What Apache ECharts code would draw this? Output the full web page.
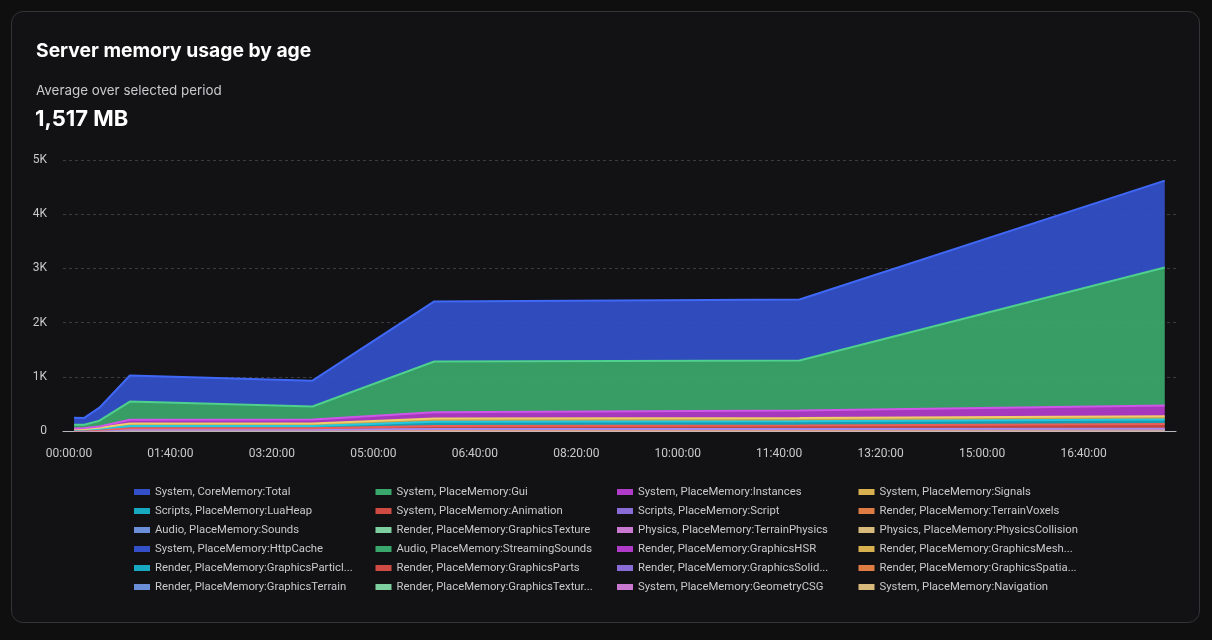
<!DOCTYPE html>
<html>
<head>
<meta charset="utf-8">
<title>Server memory usage by age</title>
<script src="https://cdn.jsdelivr.net/npm/echarts@6/dist/echarts.min.js"></script>
<style>
  html, body { margin: 0; padding: 0; background: #0f0f10; }
  #card {
    position: absolute; left: 11px; top: 11px; width: 1187px; height: 610px;
    border: 1px solid #333438; border-radius: 12px; background: #121214;
  }
  #chart { position: absolute; left: 0; top: 0; width: 1212px; height: 640px; }
</style>
</head>
<body>
<div id="card"></div>
<div id="chart"></div>
<script>
// age buckets, in seconds
var ageSeconds = [300, 900, 1800, 3600, 14400, 21600, 43200, 64800];

var seriesNames = [
  'System, CoreMemory:Total', 'System, PlaceMemory:Gui', 'System, PlaceMemory:Instances', 'System, PlaceMemory:Signals',
  'Scripts, PlaceMemory:LuaHeap', 'System, PlaceMemory:Animation', 'Scripts, PlaceMemory:Script', 'Render, PlaceMemory:TerrainVoxels',
  'Audio, PlaceMemory:Sounds', 'Render, PlaceMemory:GraphicsTexture', 'Physics, PlaceMemory:TerrainPhysics', 'Physics, PlaceMemory:PhysicsCollision',
  'System, PlaceMemory:HttpCache', 'Audio, PlaceMemory:StreamingSounds', 'Render, PlaceMemory:GraphicsHSR', 'Render, PlaceMemory:GraphicsMeshParts',
  'Render, PlaceMemory:GraphicsParticles', 'Render, PlaceMemory:GraphicsParts', 'Render, PlaceMemory:GraphicsSolidModels', 'Render, PlaceMemory:GraphicsSpatialHash',
  'Render, PlaceMemory:GraphicsTerrain', 'Render, PlaceMemory:GraphicsTextureCharacter', 'System, PlaceMemory:GeometryCSG', 'System, PlaceMemory:Navigation'
];

// MB per series, one row per name above
var seriesValues = [
  [130, 125, 240, 480, 477, 1107, 1127, 1603],
  [67, 60, 107, 335, 240, 935, 920, 2546],
  [15, 18, 25, 70, 73, 118, 140, 200],
  [8, 10, 15, 45, 45, 60, 60, 60],
  [10, 12, 18, 40, 40, 80, 80, 80],
  [5, 8, 12, 30, 30, 55, 65, 90],
  [3, 3, 4, 8, 8, 12, 12, 14],
  [1, 1, 1, 2, 2, 3, 3, 3],
  [1, 1, 1, 2, 2, 3, 3, 3],
  [1, 1, 2, 2, 2, 4, 4, 4],
  [2, 2, 3, 5, 5, 8, 8, 10],
  [0, 0, 1, 1, 1, 1, 1, 1],
  [0, 0, 0, 1, 1, 1, 1, 1],
  [0, 0, 0, 0, 0, 0, 0, 0],
  [0, 0, 0, 0, 0, 0, 0, 0],
  [0, 0, 0, 0, 0, 0, 0, 0],
  [0, 0, 0, 0, 0, 0, 0, 0],
  [0, 0, 0, 0, 0, 0, 0, 0],
  [0, 0, 0, 0, 0, 0, 0, 0],
  [0, 0, 0, 0, 0, 0, 0, 0],
  [0, 0, 0, 0, 0, 0, 0, 0],
  [0, 0, 0, 0, 0, 0, 0, 0],
  [1, 1, 1, 2, 2, 3, 3, 4],
  [0, 0, 0, 0, 0, 0, 0, 0]
];

// x ticks every 1h40m, in seconds
var xTickValues = [0, 6000, 12000, 18000, 24000, 30000, 36000, 42000, 48000, 54000, 60000];
var yTicks = [0, 1000, 2000, 3000, 4000, 5000];

var fillColors = ['#3350c9', '#3aa86c', '#b03bc9', '#d8b050', '#17a9c0', '#d04a44',
                  '#8a6cd6', '#de7c44', '#6b8ed8', '#7ecfa0', '#c97ad0', '#d8bb7c'];
var lineColors = ['#4068f7', '#4fd08c', '#cf56e8', '#f0cc6a', '#26c8e0', '#ec5e58',
                  '#a68af0', '#f39658', '#86a8f0', '#98e8b8', '#e298e8', '#f0d596'];

function pad(n) { return (n < 10 ? '0' : '') + n; }
function fmtAge(s) {
  s = Math.round(s);
  var h = Math.floor(s / 3600), m = Math.floor((s % 3600) / 60), sec = s % 60;
  return pad(h) + ':' + pad(m) + ':' + pad(sec);
}

// points are [MB, seconds] so the first dimension (the one that gets stacked) is y
// bottom of the stack is the last name, Total ends up on top
var series = [];
for (var i = seriesNames.length - 1; i >= 0; i--) {
  var c = i % fillColors.length;
  series.push({
    name: seriesNames[i],
    type: 'line',
    stack: 'mem',
    encode: { x: 1, y: 0 },
    showSymbol: false,
    symbol: 'none',
    lineStyle: { width: 2, color: lineColors[c] },
    itemStyle: { color: fillColors[c] },
    areaStyle: { color: fillColors[c], opacity: 0.93 },
    data: ageSeconds.map(function (t, k) { return [seriesValues[i][k], t]; })
  });
}

var legends = [];
var colX = [134, 375.5, 617, 858.5];
for (var col = 0; col < 4; col++) {
  legends.push({
    orient: 'vertical',
    left: colX[col],
    top: 485,
    padding: 0,
    itemWidth: 16,
    itemHeight: 6,
    itemGap: 5,
    icon: 'rect',
    selectedMode: false,
    textStyle: {
      color: '#c9c9cc', fontSize: 11.3, fontFamily: 'Roboto', lineHeight: 14,
      width: 200, overflow: 'truncate', ellipsis: '...'
    },
    data: seriesNames.filter(function (n, k) { return k % 4 === col; })
  });
}

var option = {
  backgroundColor: 'transparent',
  animation: false,
  title: [{
    text: 'Server memory usage by age',
    left: 36, top: 42, padding: 0,
    textStyle: { color: '#ffffff', fontSize: 19.3, fontWeight: 'bold', fontFamily: 'Inter' }
  }, {
    text: 'Average over selected period',
    left: 36, top: 84, padding: 0,
    textStyle: { color: '#c9c9cc', fontSize: 13.4, fontWeight: 'normal', fontFamily: 'Inter' }
  }, {
    text: '1,517 MB',
    left: 35, top: 108, padding: 0,
    textStyle: { color: '#ffffff', fontSize: 22, fontWeight: 'bold', fontFamily: 'Inter' }
  }],
  legend: legends,
  grid: { left: 63, right: 36, top: 160, bottom: 209 },
  xAxis: {
    type: 'value',
    min: -355,
    max: 65465,
    axisLine: { show: true, lineStyle: { color: '#b8b8bc', width: 1 } },
    axisTick: { show: false },
    splitLine: { show: false },
    axisLabel: {
      customValues: xTickValues,
      color: '#c9c9cc', fontSize: 12, fontFamily: 'Roboto', margin: 17,
      formatter: function (v) { return fmtAge(v); }
    }
  },
  yAxis: {
    type: 'value',
    min: yTicks[0],
    max: yTicks[yTicks.length - 1],
    interval: 1000,
    axisLine: { show: false },
    axisTick: { show: false },
    splitLine: { show: true, lineStyle: { color: '#3c3c40', type: [3, 3], width: 1 } },
    axisLabel: {
      color: '#c9c9cc', fontSize: 12, fontFamily: 'Roboto', margin: 16,
      formatter: function (v) { return v === 0 ? '0' : (v / 1000) + 'K'; }
    }
  },
  series: series
};

var myChart = echarts.init(document.getElementById('chart'));
myChart.setOption(option);
</script>
</body>
</html>
